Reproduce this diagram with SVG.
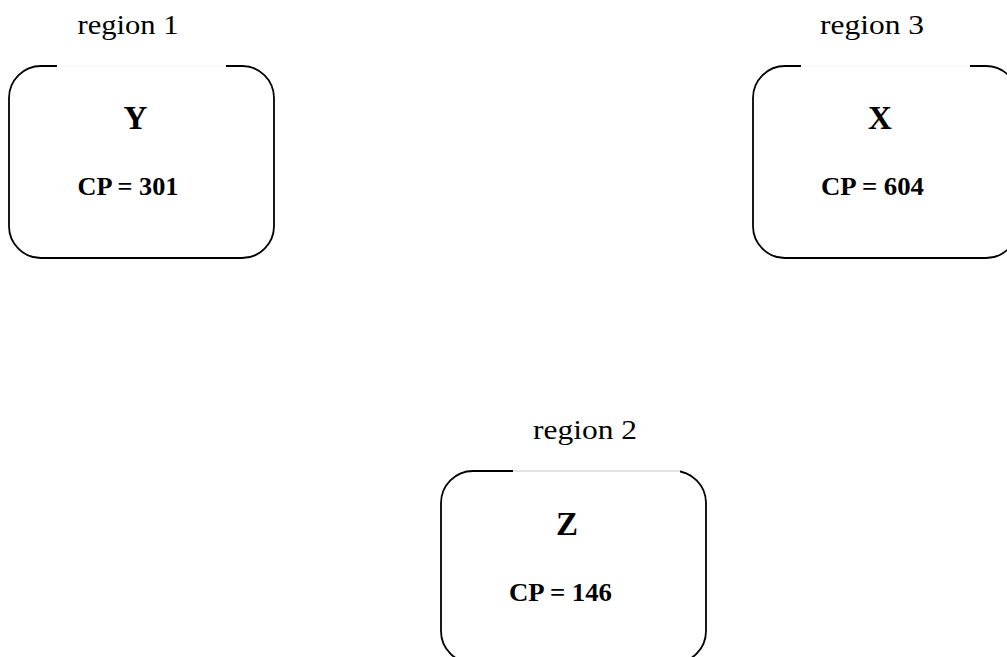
<svg xmlns="http://www.w3.org/2000/svg" width="1007" height="657" viewBox="0 0 1007 657">
<style>
.box{fill:none;stroke:#000;stroke-width:1.8}
.gap{stroke:#fff;stroke-width:4}
.gapline{stroke:#c8c8c8;stroke-width:1}
.reg{font-family:"Liberation Serif",serif;font-size:28px;text-anchor:middle;fill:#000}
.name{font-family:"Liberation Serif",serif;font-size:33px;font-weight:bold;text-anchor:middle;fill:#000}
.cp{font-family:"Liberation Serif",serif;font-size:26px;font-weight:bold;text-anchor:middle;fill:#000}
</style>
<rect width="1007" height="657" fill="#fff"/>
<g id="region1">
<rect class="box" x="9" y="66" width="265" height="192" rx="32" ry="32"/>
<line class="gap" x1="57" y1="66" x2="226" y2="66"/>
<line class="gapline" x1="57" y1="66" x2="226" y2="66" stroke-opacity="0.2"/>
<text class="reg" x="128" y="34" textLength="101" lengthAdjust="spacingAndGlyphs">region 1</text>
<text class="name" x="135.5" y="129">Y</text>
<text class="cp" x="128" y="195" textLength="101" lengthAdjust="spacingAndGlyphs">CP = 301</text>
</g>
<g id="region3">
<rect class="box" x="753" y="66" width="265" height="192" rx="32" ry="32"/>
<line class="gap" x1="801" y1="66" x2="970" y2="66"/>
<line class="gapline" x1="801" y1="66" x2="970" y2="66" stroke-opacity="0.2"/>
<text class="reg" x="872" y="34" textLength="104" lengthAdjust="spacingAndGlyphs">region 3</text>
<text class="name" x="880" y="129">X</text>
<text class="cp" x="872.5" y="195" textLength="103" lengthAdjust="spacingAndGlyphs">CP = 604</text>
</g>
<g id="region2">
<rect class="box" x="441" y="471" width="265" height="192" rx="32" ry="32"/>
<line class="gap" x1="513" y1="471" x2="680" y2="471"/>
<line class="gapline" x1="513" y1="471" x2="680" y2="471"/>
<text class="reg" x="585" y="439" textLength="104" lengthAdjust="spacingAndGlyphs">region 2</text>
<text class="name" x="567" y="535">Z</text>
<text class="cp" x="560.5" y="601" textLength="103" lengthAdjust="spacingAndGlyphs">CP = 146</text>
</g>
<g id="connectors"></g>
</svg>
